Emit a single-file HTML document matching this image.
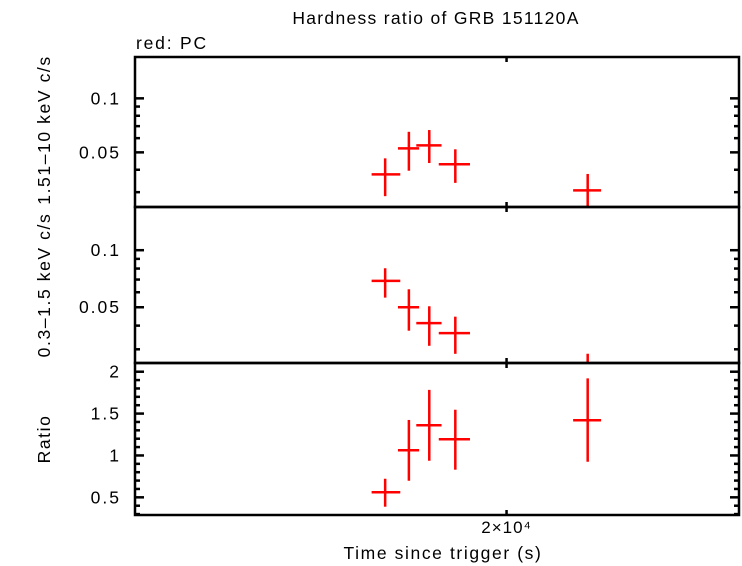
<!DOCTYPE html>
<html><head><meta charset="utf-8"><style>
html,body{margin:0;padding:0;background:#fff;}
svg{display:block;font-family:"Liberation Sans",sans-serif;}
text{letter-spacing:1.3px;}
</style></head><body>
<svg id="chart" width="742" height="566" viewBox="0 0 742 566" xmlns="http://www.w3.org/2000/svg">
<text x="436" y="24" font-size="17.5" text-anchor="middle">Hardness ratio of GRB 151120A</text>
<text x="136" y="49" font-size="17.5" style="letter-spacing:1.8px">red: PC</text>
<text transform="translate(50,130) rotate(-90)" font-size="17.5" text-anchor="middle" style="letter-spacing:1.6px">1.51–10 keV c/s</text>
<text transform="translate(50,285) rotate(-90)" font-size="17.5" text-anchor="middle" style="letter-spacing:1.6px">0.3–1.5 keV c/s</text>
<text transform="translate(50,439) rotate(-90)" font-size="17.5" text-anchor="middle" style="letter-spacing:1.6px">Ratio</text>
<text x="443" y="559" font-size="17.5" text-anchor="middle" style="letter-spacing:1.6px">Time since trigger (s)</text>
<g id="g"></g>
</svg>
<script>
// data
const times = [17800, 18210, 18570, 19040, 21620];
const timeLo = [17570, 18020, 18340, 18740, 21320];
const timeHi = [18060, 18390, 18790, 19310, 21900];
const hard = [0.0377, 0.0526, 0.0547, 0.0429, 0.0307];
const hardLo = [0.0285, 0.0395, 0.0436, 0.0338, 0.024];
const hardHi = [0.0463, 0.0651, 0.0666, 0.0520, 0.0379];
const soft = [0.0689, 0.0500, 0.0412, 0.0365, 0.018];
const softLo = [0.0562, 0.0376, 0.0313, 0.0284, 0.010];
const softHi = [0.0803, 0.0622, 0.0506, 0.0446, 0.0284];
const ratio = [0.56, 1.062, 1.361, 1.193, 1.42];
const ratioLo = [0.388, 0.698, 0.937, 0.83, 0.925];
const ratioHi = [0.722, 1.424, 1.783, 1.546, 1.92];
const logTicks = [0.03, 0.04, 0.05, 0.06, 0.07, 0.08, 0.09, 0.1];
const logLabels = ["0.05", "0.1"];
const ratioTicks = [0.3,0.4,0.5,0.6,0.7,0.8,0.9,1,1.1,1.2,1.3,1.4,1.5,1.6,1.7,1.8,1.9,2.0];
const ratioLabels = ["0.5", "1", "1.5", "2"];
const xTicks = [20000];

const NS = "http://www.w3.org/2000/svg";
const g = document.getElementById('g');
const L = 135, R = 739;
const xmin = 14000, xmax = 25000;
function X(t){ return L + Math.log10(t/xmin)/Math.log10(xmax/xmin)*(R-L); }
function mk(tag, attrs){ const e=document.createElementNS(NS,tag); for(const k in attrs) e.setAttribute(k,attrs[k]); g.appendChild(e); return e; }

const panels = [
 {name:'hard', top:57, bot:207, log:true, ymin:0.0248, ymax:0.170, v:hard, lo:hardLo, hi:hardHi, ticks:logTicks, labels:logLabels},
 {name:'soft', top:207, bot:363, log:true, ymin:0.0254, ymax:0.169, v:soft, lo:softLo, hi:softHi, ticks:logTicks, labels:logLabels},
 {name:'ratio', top:363, bot:515, log:false, ymin:0.289, ymax:2.104, v:ratio, lo:ratioLo, hi:ratioHi, ticks:ratioTicks, labels:ratioLabels}
];

panels.forEach(p=>{
  const Y = p.log ? (v=>p.bot - Math.log10(v/p.ymin)/Math.log10(p.ymax/p.ymin)*(p.bot-p.top))
                  : (v=>p.bot - (v-p.ymin)/(p.ymax-p.ymin)*(p.bot-p.top));
  const clip = document.createElementNS(NS,'clipPath');
  clip.setAttribute('id','c-'+p.name);
  const cr = document.createElementNS(NS,'rect');
  cr.setAttribute('x',L); cr.setAttribute('y',p.top); cr.setAttribute('width',R-L); cr.setAttribute('height',p.bot-p.top);
  clip.appendChild(cr); g.appendChild(clip);
  p.ticks.forEach(t=>{
    const y = Y(t);
    const major = p.labels.some(l=>Math.abs(parseFloat(l)-t)<1e-9);
    const len = major ? 9 : 5;
    const tl = mk('line',{x1:L,x2:L+len,y1:y,y2:y,stroke:'#000','stroke-width':2.5});
    
    
    const tr = mk('line',{x1:R-len,x2:R,y1:y,y2:y,stroke:'#000','stroke-width':2.5});
    
    
  });
  p.labels.forEach(l=>{
    const tx = mk('text',{x:121,y:Y(parseFloat(l))+6,'font-size':17.5,'text-anchor':'end',style:'letter-spacing:2px'});
    tx.textContent = l;
    
    
  });
  xTicks.forEach(t=>{
    const x = X(t);
    const a = mk('line',{x1:x,x2:x,y1:p.top,y2:p.top+5,stroke:'#000','stroke-width':2.5});
    
    
    const b = mk('line',{x1:x,x2:x,y1:p.bot-5,y2:p.bot,stroke:'#000','stroke-width':2.5});
    
    
  });
  const dg = document.createElementNS(NS,'g');
  dg.setAttribute('clip-path','url(#c-'+p.name+')');
  
  
  g.appendChild(dg);
  times.forEach((t,i)=>{
    const h = document.createElementNS(NS,'line');
    h.setAttribute('x1',X(timeLo[i])); h.setAttribute('x2',X(timeHi[i]));
    h.setAttribute('y1',Y(p.v[i])); h.setAttribute('y2',Y(p.v[i]));
    h.setAttribute('stroke','#f00'); h.setAttribute('stroke-width',2.5);
    
    
    dg.appendChild(h);
    const v = document.createElementNS(NS,'line');
    v.setAttribute('x1',X(t)); v.setAttribute('x2',X(t));
    v.setAttribute('y1',Y(p.lo[i])); v.setAttribute('y2',Y(p.hi[i]));
    v.setAttribute('stroke','#f00'); v.setAttribute('stroke-width',2.5);
    
    
    dg.appendChild(v);
  });
  const fr = mk('rect',{x:L,y:p.top,width:R-L,height:p.bot-p.top,fill:'none',stroke:'#000','stroke-width':2.5});
  
  
});
xTicks.forEach(t=>{
  const tx = mk('text',{x:X(t),y:533,'font-size':17,'text-anchor':'middle',style:'letter-spacing:1px'});
  tx.textContent = '2×10⁴';
  
  
});
</script>
</body></html>
